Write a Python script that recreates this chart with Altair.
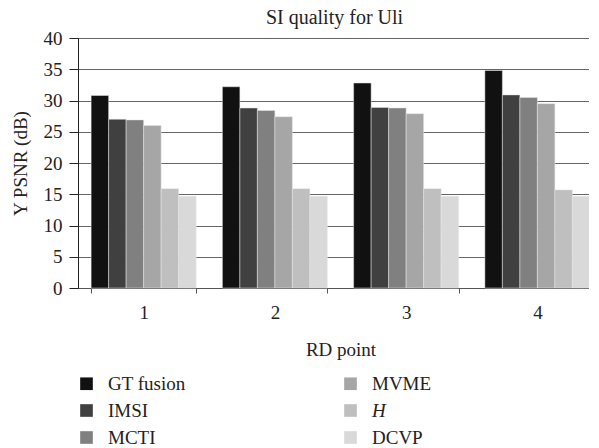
import altair as alt
import pandas as pd

rd_points = ["1", "2", "3", "4"]
methods = ["GT fusion", "IMSI", "MCTI", "MVME", "H", "DCVP"]
colors = ["#111111", "#404040", "#808080", "#a6a6a6", "#bfbfbf", "#d9d9d9"]
values = {
    "GT fusion": [30.8, 32.2, 32.8, 34.8],
    "IMSI": [27.0, 28.8, 28.9, 30.9],
    "MCTI": [26.9, 28.4, 28.8, 30.5],
    "MVME": [26.0, 27.4, 27.9, 29.5],
    "H": [15.9, 15.9, 15.9, 15.7],
    "DCVP": [14.7, 14.7, 14.7, 14.7],
}

rows = []
for m in methods:
    for p, v in zip(rd_points, values[m]):
        rows.append({"RD": p, "method": m, "psnr": v})
df = pd.DataFrame(rows)

FONT = "Liberation Serif"

chart = alt.Chart(df).mark_bar(stroke="#e6e6e6", strokeWidth=0.5).encode(
    x=alt.X("RD:N", sort=rd_points,
            scale=alt.Scale(paddingInner=0.2, paddingOuter=0.1),
            axis=alt.Axis(title="RD point", labelAngle=0, tickBand="extent",
                          domainColor="#555555", tickColor="#555555", tickSize=5,
                          labelFontSize=19, titleFontSize=19, labelPadding=10,
                          titlePadding=18, labelColor="#222222", titleColor="#222222",
                          titleFontWeight="normal")),
    xOffset=alt.XOffset("method:N", sort=methods),
    y=alt.Y("psnr:Q", scale=alt.Scale(domain=[0, 40]),
            axis=alt.Axis(title="Y PSNR (dB)", values=list(range(0, 41, 5)),
                          grid=True, gridColor="#666666", gridWidth=1,
                          domainColor="#222222", tickColor="#222222", tickSize=9,
                          labelFontSize=19, titleFontSize=19, labelPadding=7,
                          titlePadding=13, labelColor="#222222", titleColor="#222222",
                          titleFontWeight="normal")),
    color=alt.Color("method:N", sort=methods,
                    scale=alt.Scale(domain=methods, range=colors),
                    legend=alt.Legend(title=None, orient="none", legendX=-1, legendY=336,
                                      columns=2, direction="vertical",
                                      symbolType="square", symbolSize=160,
                                      symbolStrokeWidth=0, labelFontSize=19,
                                      labelOffset=12, rowPadding=7, columnPadding=155,
                                      labelColor="#222222",
                                      labelFontStyle=alt.ExprRef("datum.label == 'H' ? 'italic' : 'normal'"))),
).properties(
    width=525, height=250,
    title=alt.TitleParams("SI quality for Uli", fontSize=20, font=FONT,
                          fontWeight="normal", color="#222222", offset=1, dx=-6),
).configure(font=FONT, padding={"left": 3, "top": 0, "right": -14, "bottom": 0}
).configure_view(stroke="#333333", strokeWidth=1)

chart.save("out.html", embed_options={"renderer": "svg", "actions": False})
